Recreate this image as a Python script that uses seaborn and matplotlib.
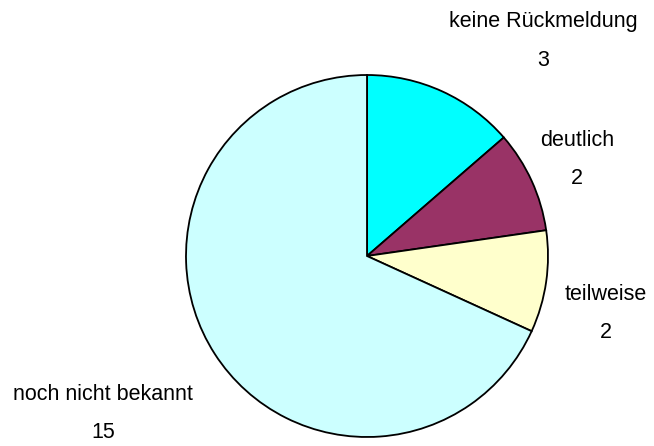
import matplotlib
matplotlib.use("Agg")
import matplotlib.pyplot as plt
import seaborn as sns

# Data
categories = ["keine Rückmeldung", "deutlich", "teilweise", "noch nicht bekannt"]
counts = [3, 2, 2, 15]
colors = ["#00FFFF", "#993366", "#FFFFCC", "#CCFFFF"]

sns.set_style("white")
plt.rcParams["font.family"] = ["Liberation Sans", "DejaVu Sans"]

fig = plt.figure(figsize=(6.54, 4.46), dpi=100)
ax = fig.add_axes([186 / 654, 9 / 446, 362 / 654, 362 / 446])

ax.pie(counts, colors=colors, startangle=90, counterclock=False,
       wedgeprops={"edgecolor": "black", "linewidth": 1.3})
ax.set_xlim(-1, 1)
ax.set_ylim(-1, 1)
ax.set_aspect("equal")
ax.axis("off")

# label positions (pixel-based: centre 367,256 radius 181)
label_pos = [(543, 22, 60), (577, 140, 179), (606, 294, 332), (103, 394, 433)]
for name, n, (x, y1, y2) in zip(categories, counts, label_pos):
    ax.text((x - 367) / 181, (256 - y1) / 181, name, ha="center", va="center",
            fontsize=15.5, color="black", clip_on=False)
    ax.text((x - 367) / 181, (256 - y2) / 181, str(n), ha="center", va="center",
            fontsize=15.5, color="black", clip_on=False)

fig.savefig("out.png", dpi=100)
